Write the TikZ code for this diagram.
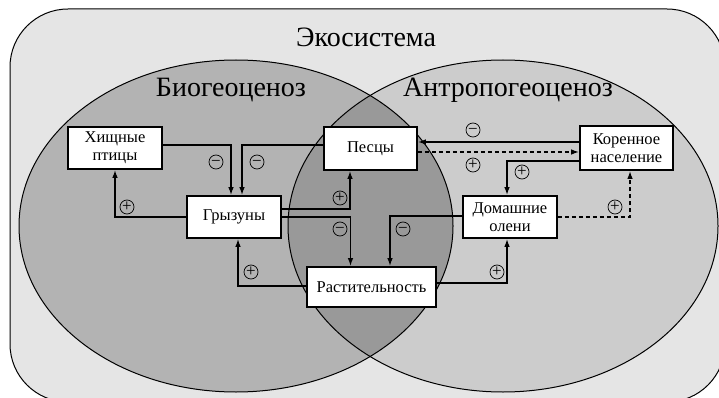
\documentclass[tikz,border=0pt]{standalone}
\usepackage{fontspec}
\setmainfont{Liberation Serif}
\usetikzlibrary{arrows.meta,calc}
\definecolor{outerfill}{HTML}{E5E5E5}
\definecolor{leftfill}{HTML}{B3B3B3}
\definecolor{rightfill}{HTML}{CCCCCC}
\definecolor{midfill}{HTML}{999999}
\begin{document}
\begin{tikzpicture}[x=1pt,y=-1pt,
  box/.style={draw, line width=1.6pt, fill=white, inner sep=0pt, align=center,
    font=\fontsize{16.5}{18}\selectfont},
  conn/.style={line width=1.5pt, -{Latex[length=8pt,width=5.5pt]}},
  dconn/.style={conn, dash pattern=on 4pt off 3pt},
  sgn/.style={circle, draw, line width=0.7pt, minimum size=14pt, inner sep=0pt,
    text height=8.6pt, text depth=0pt, font=\fontsize{17}{17}\selectfont},
  bigt/.style={font=\fontsize{28}{30}\selectfont}]
\useasboundingbox (0,0) rectangle (719,398);
% ecosystem
\draw[fill=outerfill, line width=1pt, rounded corners=58pt] (10,9) rectangle (725,402);
% ellipses
\fill[leftfill] (236,226) ellipse [x radius=217, y radius=166];
\fill[rightfill] (503,226) ellipse [x radius=215, y radius=166];
\begin{scope}
  \clip (236,226) ellipse [x radius=217, y radius=166];
  \fill[midfill] (503,226) ellipse [x radius=215, y radius=166];
\end{scope}
\draw[line width=1pt] (236,226) ellipse [x radius=217, y radius=166];
\draw[line width=1pt] (503,226) ellipse [x radius=215, y radius=166];
% titles
\node[bigt] (eco) at (366,37) {Экосистема};
\node[bigt] (bio) at (231,90) {Биогеоценоз};
\node[bigt] (antro) at (508,90) {Антропогеоценоз};
% boxes
\node[box, minimum width=94pt, minimum height=42pt] (hp) at (115,148) {Хищные\\птицы};
\node[box, minimum width=93pt, minimum height=43pt] (ps) at (370.5,148.5) {Песцы};
\node[box, minimum width=93pt, minimum height=44pt] (kn) at (626.5,148) {Коренное\\население};
\node[box, minimum width=94pt, minimum height=42pt] (gr) at (234,217) {Грызуны};
\node[box, minimum width=94pt, minimum height=42pt] (do) at (510,217) {Домашние\\олени};
\node[box, minimum width=129pt, minimum height=40pt] (ra) at (371.5,287) {Растительность};
% connectors
\draw[conn] ([yshift=3pt]hp.east) -| ([xshift=-3pt]gr.north);
\draw[conn] ([yshift=3.5pt]ps.west) -| ([xshift=8pt]gr.north);
\draw[conn] (gr.west) -| (hp.south);
\draw[conn] ([yshift=8pt]gr.east) -| ([xshift=-20.5pt]ps.south);
\draw[conn] (gr.east) -| ([xshift=-21pt]ra.north);
\draw[conn] ([yshift=1pt]ra.west) -| ([xshift=4pt]gr.south);
\draw[conn] ([yshift=1pt]do.west) -| ([xshift=18.5pt]ra.north);
\draw[conn] ([yshift=4pt]ra.east) -| ([xshift=-3pt]do.south);
\draw[conn] ([yshift=6pt]kn.west) -- ([yshift=6pt]kn.west -| ps.east);
\draw[dconn] ([yshift=-3.5pt]ps.east) -- ([yshift=-3.5pt]ps.east -| kn.west);
\draw[conn] ([yshift=-13pt]kn.west) -| ([xshift=-3pt]do.north);
\draw[dconn] (do.east) -| ([xshift=3.5pt]kn.south);
% signs
\node[sgn] (s1) at (216,162) {−};
\node[sgn] (s2) at (257,162) {−};
\node[sgn] (s3) at (127,207) {+};
\node[sgn] (s4) at (340,198) {+};
\node[sgn] (s5) at (340,229) {−};
\node[sgn] (s6) at (251,272) {+};
\node[sgn] (s7) at (403,229) {−};
\node[sgn] (s8) at (497,272) {+};
\node[sgn] (s9) at (473,130) {−};
\node[sgn] (s10) at (473,165) {+};
\node[sgn] (s11) at (522,172) {+};
\node[sgn] (s12) at (615,207) {+};
\end{tikzpicture}
\end{document}
